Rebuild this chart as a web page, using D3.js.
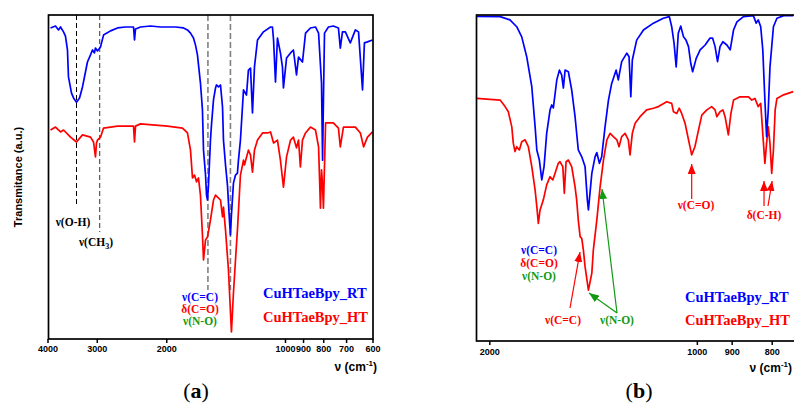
<!DOCTYPE html>
<meta charset="utf-8">
<style>
  body { margin: 0; background: #fff; }
  svg { display: block; }
  .tick text { font: bold 9px "Liberation Sans", Arial, sans-serif; fill: #000; }
  .tick line { stroke: #000; stroke-width: 1.5; }
  .note { font-family: "Liberation Serif", "Times New Roman", serif; font-weight: bold; font-size: 11.5px; text-anchor: middle; }
  .legend { font-family: "Liberation Serif", "Times New Roman", serif; font-weight: bold; font-size: 14.5px; }
  .axlabel { font: bold 12px "Liberation Sans", Arial, sans-serif; }
  .frame { fill: none; stroke: #000; stroke-width: 1.7; }
  .spec { fill: none; stroke-width: 1.7; stroke-linejoin: round; }
</style>
<body>
<svg width="794" height="405"></svg>
<script src="https://d3js.org/d3.v7.min.js"></script>
<script>

// spectra (wavenumber in cm-1, transmittance in a.u.)
var aRtWave = [3930,3818,3751,3707,3643,3602,3560,3539,3477,3436,3377,3318,3261,3205,3168,3112,3076,3041,3023,2988,2936,2884,2834,2769,2658,2537,2421,2407,2393,2324,2193,2069,1986,1895,1808,1767,1736,1706,1686,1667,1638,1619,1609,1590,1581,1572,1563,1545,1536,1518,1500,1492,1474,1457,1440,1432,1415,1399,1383,1375,1367,1351,1335,1320,1312,1297,1274,1252,1238,1223,1209,1195,1174,1134,1088,1076,1069,1057,1045,1027,1015,1009,991,968,952,935,924,903,887,862,837,822,808,803,799,794,776,754,732,724,715,703,683,663,651,636,629,618,600];
var aRtT = [96.0,96.6,95.4,96.3,94.8,93.5,89.2,80.9,75.9,74.4,73.1,74.4,77.8,82.4,85.5,87.7,89.2,88.3,89.8,88.9,90.1,93.8,94.4,95.1,96.0,96.3,96.3,92.3,95.7,96.3,96.6,96.3,96.3,96.3,96.0,95.4,94.4,92.9,90.7,87.7,79.0,70.7,58.3,50.6,44.4,42.9,47.5,61.4,66.0,73.8,77.5,78.4,77.8,78.4,71.6,61.4,53.7,47.5,36.7,32.1,38.3,48.1,50.6,51.2,55.2,61.4,76.9,75.3,83.0,83.6,69.8,84.0,92.3,94.8,96.3,96.3,92.3,79.3,92.9,88.3,84.0,77.5,86.7,88.3,89.2,81.5,87.0,85.5,94.4,96.0,96.3,94.4,79.0,55.2,73.8,94.4,96.3,96.6,96.0,89.8,94.8,94.8,91.4,95.4,94.8,76.9,91.4,91.7,92.3];

var aHtWave = [3930,3818,3707,3643,3497,3377,3261,3112,3058,3023,3005,2988,2936,2884,2658,2421,2407,2393,2324,1986,1819,1767,1736,1716,1696,1676,1657,1638,1619,1609,1590,1572,1545,1518,1500,1483,1457,1440,1432,1415,1391,1367,1351,1335,1320,1297,1274,1267,1238,1223,1209,1195,1174,1140,1107,1088,1069,1045,1027,1009,991,968,952,935,924,914,903,887,862,837,822,813,808,803,799,789,754,732,724,711,683,663,644,632,618,600];
var aHtT = [64.5,65.4,63.9,64.5,62.3,60.8,63.0,62.3,60.8,56.2,60.5,61.4,62.3,65.1,65.7,65.7,60.8,65.7,66.4,65.7,65.1,63.6,58.3,49.7,50.6,48.5,49.7,44.4,32.1,24.4,30.6,31.5,36.7,42.9,44.4,43.8,42.9,37.7,40.7,33.6,21.3,2.2,14.2,24.4,33.6,50.6,55.2,53.7,58.3,56.8,51.5,58.3,61.4,63.6,63.6,63.9,60.5,61.4,55.2,46.9,56.2,61.4,62.3,59.0,61.4,53.1,61.4,63.6,65.4,64.5,59.3,40.4,52.2,47.5,40.4,66.7,66.7,65.1,59.3,65.4,65.4,65.4,63.6,59.3,62.3,63.9];

var bRtWave = [2094,1923,1856,1812,1780,1749,1718,1698,1688,1673,1659,1646,1631,1612,1603,1594,1575,1561,1549,1540,1531,1514,1497,1480,1464,1447,1431,1420,1415,1399,1384,1376,1364,1354,1339,1324,1310,1291,1282,1268,1247,1238,1231,1225,1208,1182,1145,1110,1089,1081,1073,1066,1059,1051,1042,1034,1026,1019,1013,1002,990,975,961,953,946,939,932,924,913,904,895,886,869,844,837,832,826,821,816,812,808,804,796,788,773,752];
var bRtT = [99.6,99.5,98.5,96.4,93.3,87.2,78.0,65.7,58.6,55.5,49.4,53.5,63.7,70.9,72.4,71.5,80.1,83.1,81.6,77.6,83.1,82.6,77.0,68.8,58.6,56.5,53.5,43.3,40.2,51.4,56.5,57.8,54.5,56.5,65.7,73.9,79.0,83.1,80.1,85.7,88.3,87.2,74.9,86.2,92.3,95.4,97.5,99.0,99.5,96.4,91.3,84.1,94.4,96.6,93.3,92.3,90.3,85.2,82.6,86.7,89.3,90.8,92.9,92.9,90.3,85.7,90.3,91.8,90.8,89.3,95.4,97.9,99.5,99.8,97.5,98.5,96.4,89.3,73.9,62.7,70.9,84.1,96.4,99.0,99.8,99.8];

var bHtWave = [2094,1923,1889,1867,1844,1834,1823,1812,1795,1780,1759,1739,1718,1698,1688,1679,1669,1650,1631,1612,1597,1585,1567,1558,1543,1535,1526,1514,1497,1480,1472,1464,1455,1447,1439,1431,1415,1399,1392,1376,1361,1346,1331,1317,1303,1288,1279,1268,1254,1241,1234,1225,1214,1195,1170,1145,1127,1098,1081,1075,1064,1056,1048,1037,1026,1016,1006,995,985,970,956,946,941,932,924,918,909,902,895,878,856,848,840,832,826,820,816,812,808,804,800,796,792,788,773,752];
var bHtT = [74.4,73.9,71.9,70.3,65.7,60.6,58.1,59.6,58.6,61.1,61.7,59.6,53.5,46.3,41.2,36.1,40.2,43.3,47.9,50.4,49.4,51.4,54.5,55.0,53.5,45.3,55.0,55.5,53.5,47.3,43.3,37.1,32.0,31.5,27.9,22.8,15.6,20.8,27.9,37.1,47.3,55.5,61.7,63.7,62.7,61.7,59.6,62.7,63.7,61.7,57.1,63.7,66.8,68.8,70.9,71.4,71.9,73.4,72.9,70.3,69.8,71.4,69.8,66.8,61.7,57.1,59.6,64.7,69.3,70.9,71.9,70.9,68.8,70.3,70.9,68.8,63.2,69.8,73.9,74.9,74.9,73.9,74.4,71.9,72.9,61.7,54.5,60.6,65.7,60.6,51.4,58.6,70.9,74.4,75.5,76.5];

var aTicks = [4000, 3000, 2000, 1000, 900, 800, 700, 600];
var bTicks = [2000, 1000, 900, 800];
var aMarks = [3377, 2950, 1568, 1375];   // dashed guide lines, panel a
var names = ["CuHTaeBpy_RT", "CuHTaeBpy_HT"];

var BLUE = "#0000ff", RED = "#ff0000", GREEN = "#129a12";

var svg = d3.select("svg");

var defs = svg.append("defs");
[["headRed", RED], ["headGreen", GREEN]].forEach(function(m) {
  defs.append("marker")
      .attr("id", m[0])
      .attr("markerUnits", "userSpaceOnUse")
      .attr("markerWidth", 10).attr("markerHeight", 8)
      .attr("refX", 10).attr("refY", 4)
      .attr("orient", "auto")
    .append("path")
      .attr("d", "M0,0 L10,4 L0,8 z")
      .attr("fill", m[1]);
});

function series(w, t) {
  return w.map(function(d, i) { return [d, t[i]]; });
}

// ---------- panel (a) ----------
var xa = d3.scaleLog().domain([4000, 600]).range([47.5, 372.5]);
var ya = d3.scaleLinear().domain([0, 100]).range([339, 15]);

var lineA = d3.line()
    .x(function(d) { return xa(d[0]); })
    .y(function(d) { return ya(d[1]); });

var ga = svg.append("g");

// guide lines
ga.append("line").attr("x1", xa(aMarks[0])).attr("x2", xa(aMarks[0]))
    .attr("y1", 15).attr("y2", 207)
    .attr("stroke", "#000").attr("stroke-width", 1).attr("stroke-dasharray", "5,3");
ga.append("line").attr("x1", xa(aMarks[1])).attr("x2", xa(aMarks[1]))
    .attr("y1", 15).attr("y2", 232)
    .attr("stroke", "#555").attr("stroke-width", 1.2).attr("stroke-dasharray", "5,3");
[aMarks[2], aMarks[3]].forEach(function(w) {
  ga.append("line").attr("x1", xa(w)).attr("x2", xa(w))
      .attr("y1", 15).attr("y2", 290)
      .attr("stroke", "#808080").attr("stroke-width", 1.6).attr("stroke-dasharray", "6,3");
});

ga.append("path").attr("class", "spec").attr("stroke", RED)
    .attr("d", lineA(series(aHtWave, aHtT)));
ga.append("path").attr("class", "spec").attr("stroke", BLUE)
    .attr("d", lineA(series(aRtWave, aRtT)));

ga.append("rect").attr("class", "frame")
    .attr("x", 48.5).attr("y", 15).attr("width", 324.5).attr("height", 324);

ga.append("g")
    .attr("transform", "translate(0,339)")
    .call(d3.axisBottom(xa).tickValues(aTicks).tickFormat(d3.format("d")).tickSize(4).tickPadding(3))
    .call(function(g) { g.select(".domain").remove(); });

svg.append("text")
    .attr("class", "axlabel")
    .attr("transform", "translate(22,177) rotate(-90)")
    .attr("text-anchor", "middle")
    .style("font-size", "11px")
    .text("Transmitance (a.u.)");

function nuLabel(sel, x, y) {
  var t = sel.append("text").attr("class", "axlabel").attr("x", x).attr("y", y).attr("text-anchor", "end");
  t.append("tspan").text("ν (cm");
  t.append("tspan").attr("dy", -5).style("font-size", "8px").text("-1");
  t.append("tspan").attr("dy", 5).text(")");
}
nuLabel(svg, 377, 371);

// annotations panel a
svg.append("text").attr("class", "note").attr("x", 73).attr("y", 226).text("ν(O-H)");
var ch = svg.append("text").attr("class", "note").attr("x", 96).attr("y", 246);
ch.append("tspan").text("ν(CH");
ch.append("tspan").attr("dy", 3).style("font-size", "8px").text("3");
ch.append("tspan").attr("dy", -3).text(")");

svg.append("text").attr("class", "note").attr("x", 200).attr("y", 301).attr("fill", BLUE).text("ν(C=C)");
svg.append("text").attr("class", "note").attr("x", 200).attr("y", 313).attr("fill", RED).text("δ(C=O)");
svg.append("text").attr("class", "note").attr("x", 200).attr("y", 325).attr("fill", GREEN).text("ν(N-O)");

svg.append("text").attr("class", "legend").attr("x", 263).attr("y", 298).attr("fill", BLUE).text(names[0]);
svg.append("text").attr("class", "legend").attr("x", 263).attr("y", 322).attr("fill", RED).text(names[1]);

// ---------- panel (b) ----------
var xb = d3.scalePow().exponent(-0.25).domain([2000, 800]).range([489.3, 771.7]);
var yb = d3.scaleLinear().domain([0, 100]).range([341, 15]);

var lineB = d3.line()
    .x(function(d) { return xb(d[0]); })
    .y(function(d) { return yb(d[1]); });

defs.append("clipPath").attr("id", "clipB")
  .append("rect").attr("x", 476).attr("y", 15).attr("width", 330).attr("height", 326);

var gb = svg.append("g");
var plotB = gb.append("g").attr("clip-path", "url(#clipB)");
plotB.append("path").attr("class", "spec").attr("stroke", RED)
    .attr("d", lineB(series(bHtWave, bHtT)));
plotB.append("path").attr("class", "spec").attr("stroke", BLUE)
    .attr("d", lineB(series(bRtWave, bRtT)));

gb.append("rect").attr("class", "frame")
    .attr("x", 476.5).attr("y", 15).attr("width", 340).attr("height", 326);

gb.append("g")
    .attr("transform", "translate(0,341)")
    .call(d3.axisBottom(xb).tickValues(bTicks).tickFormat(d3.format("d")).tickSize(4).tickPadding(4))
    .call(function(g) { g.select(".domain").remove(); });

nuLabel(svg, 792, 372);

// annotations panel b
function arrow(x1, y1, x2, y2, color, head) {
  svg.append("line")
      .attr("x1", x1).attr("y1", y1).attr("x2", x2).attr("y2", y2)
      .attr("stroke", color).attr("stroke-width", 1.2)
      .attr("marker-end", "url(#" + head + ")");
}
arrow(xb(1016), 199, xb(1016), 164, RED, "headRed");
svg.append("text").attr("class", "note").attr("x", 696).attr("y", 209).attr("fill", RED).text("ν(C=O)");

arrow(764, 206, xb(818), 181, RED, "headRed");
arrow(768, 206, xb(799), 181, RED, "headRed");
svg.append("text").attr("class", "note").attr("x", 764).attr("y", 219).attr("fill", RED).text("δ(C-H)");

svg.append("text").attr("class", "note").attr("x", 539).attr("y", 254).attr("fill", BLUE).text("ν(C=C)");
svg.append("text").attr("class", "note").attr("x", 539).attr("y", 267).attr("fill", RED).text("δ(C=O)");
svg.append("text").attr("class", "note").attr("x", 539).attr("y", 280).attr("fill", GREEN).text("ν(N-O)");

arrow(570, 308, 580, 252, RED, "headRed");
svg.append("text").attr("class", "note").attr("x", 563).attr("y", 324).attr("fill", RED).text("ν(C=C)");

arrow(617, 313, 589, 293, GREEN, "headGreen");
arrow(617, 313, 602, 189, GREEN, "headGreen");
svg.append("text").attr("class", "note").attr("x", 617).attr("y", 324).attr("fill", GREEN).text("ν(N-O)");

svg.append("text").attr("class", "legend").attr("x", 685).attr("y", 302).attr("fill", BLUE).text(names[0]);
svg.append("text").attr("class", "legend").attr("x", 685).attr("y", 325).attr("fill", RED).text(names[1]);

// panel captions
function caption(x, letter) {
  var t = svg.append("text").attr("x", x).attr("y", 398).attr("text-anchor", "middle")
      .style("font-family", "'Liberation Serif', 'Times New Roman', serif").style("font-size", "22px");
  t.append("tspan").text("(");
  t.append("tspan").style("font-weight", "bold").text(letter);
  t.append("tspan").text(")");
}
caption(196, "a");
caption(639, "b");
</script>
</body>
